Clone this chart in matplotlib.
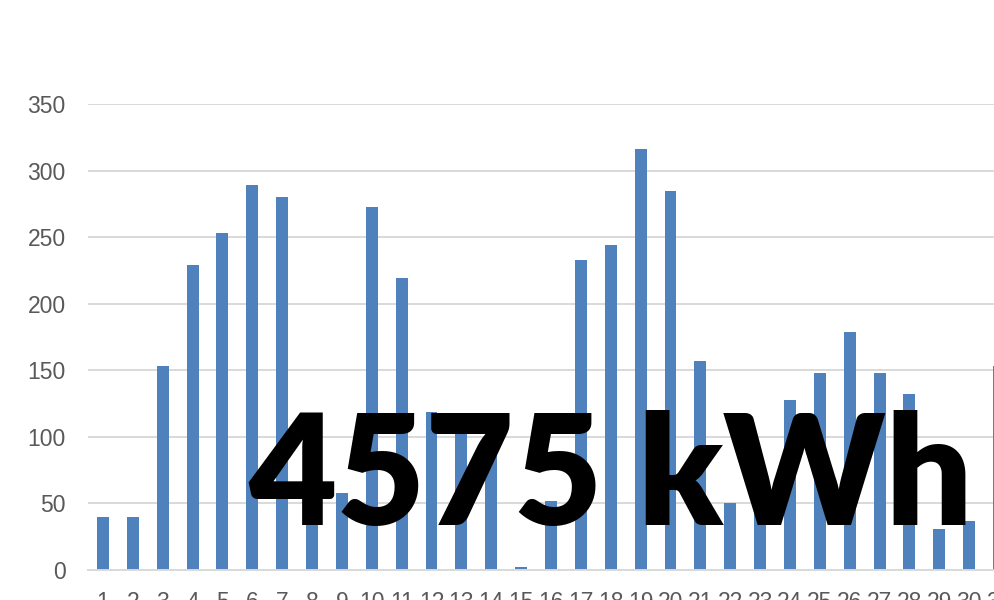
import numpy as np
import matplotlib.pyplot as plt

# daily energy output for one month (kWh)
days = list(range(1, 32))
daily_kwh = [40, 40, 153, 229, 253, 289, 280, 55, 58, 273,
             219, 119, 112, 105, 2, 52, 233, 244, 316, 285,
             157, 50, 55, 128, 148, 179, 148, 132, 31, 37, 153]
y_ticks = [0, 50, 100, 150, 200, 250, 300, 350]
total_label = "4575 kWh"

bar_color = '#4f81bd'
grid_color = '#d9d9d9'
tick_color = '#595959'

plt.rcParams['font.family'] = ['Liberation Sans', 'DejaVu Sans']

fig = plt.figure(figsize=(9.94, 6), dpi=100)
# plot area runs past the right edge of the figure
ax = fig.add_axes([88 / 994, 30 / 600, 926 / 994, 466 / 600])

ax.bar(days, daily_kwh, width=0.4, color=bar_color, zorder=2)

ax.set_xlim(0.5, 31.5)
ax.set_ylim(0, 350)
ax.set_yticks(y_ticks)
ax.set_xticks(days)
ax.set_xticklabels([str(d) for d in days])

ax.yaxis.grid(True, color=grid_color, linewidth=1.4, zorder=0)
ax.set_axisbelow(True)
for side in ['top', 'right', 'left']:
    ax.spines[side].set_visible(False)
ax.spines['bottom'].set_color(grid_color)
ax.spines['bottom'].set_linewidth(1.4)
ax.tick_params(axis='both', length=0, labelsize=16.5, colors=tick_color)
ax.tick_params(axis='y', pad=16)
ax.tick_params(axis='x', pad=15)

fig.text(611 / 994, 75 / 600, total_label, ha='center', va='baseline',
         fontsize=110, fontweight='heavy', color='black',
         family=['Lato', 'DejaVu Sans'])

fig.savefig('out.png', dpi=100)
